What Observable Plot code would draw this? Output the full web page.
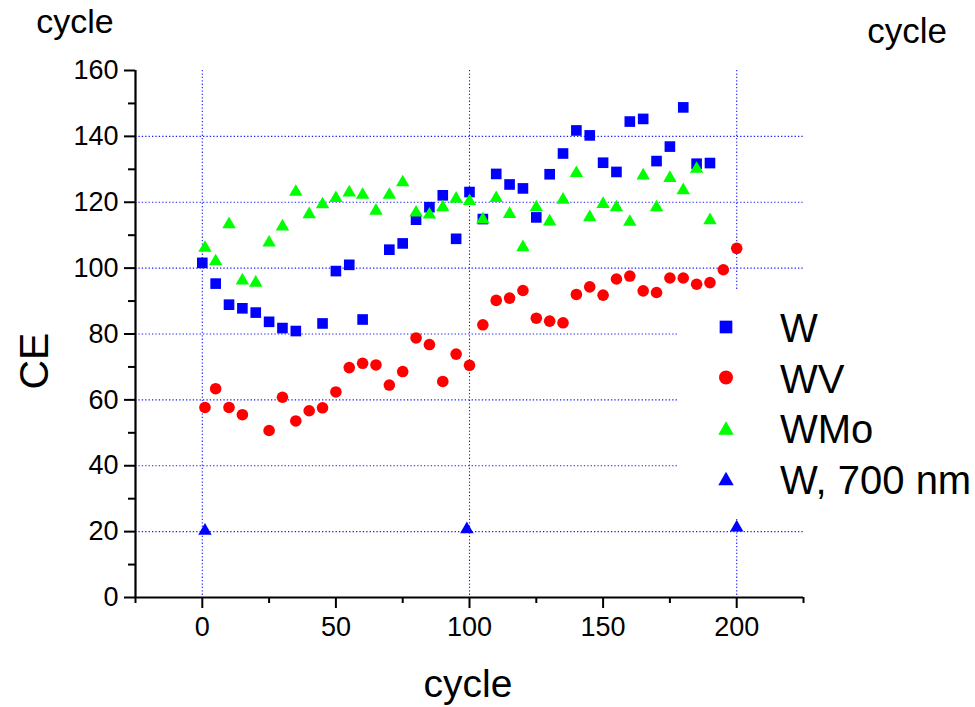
<!DOCTYPE html>
<html>
<head>
<meta charset="utf-8">
<script src="https://cdn.jsdelivr.net/npm/d3@7"></script>
<script src="https://cdn.jsdelivr.net/npm/@observablehq/plot@0.6"></script>
<style>
  html, body { margin: 0; padding: 0; background: white; }
  #wrap { position: relative; width: 975px; height: 707px; font-family: "Liberation Sans", Arial, sans-serif; }
  #wrap svg { display: block; }
  #overlay { position: absolute; left: 0; top: 0; pointer-events: none; }
</style>
</head>
<body>
<div id="wrap"></div>
<script>
// ---- data ----
const seriesNames = ["W", "WV", "WMo", "W, 700 nm"];
const seriesColors = ["#0000ff", "#ff0000", "#00ff00", "#0000ff"];
const seriesSymbols = ["square", "circle", "triangle", "triangle"];

const cycleW = [0,5,10,15,20,25,30,35,45,50,55,60,70,75,80,85,90,95,100,105,110,115,120,125,130,135,140,145,150,155,160,165,170,175,180,185,190];
const ceW = [101.6,95.3,88.9,87.8,86.5,83.7,81.8,80.9,83.2,99.1,101,84.4,105.6,107.5,114.7,118.5,122.1,108.9,123.1,114.9,128.6,125.4,124.2,115.4,128.5,134.8,141.8,140.3,132,129.2,144.5,145.3,132.5,136.9,148.8,131.7,131.9];

const cycleWV = [1,5,10,15,25,30,35,40,45,50,55,60,65,70,75,80,85,90,95,100,105,110,115,120,125,130,135,140,145,150,155,160,165,170,175,180,185,190,195,200];
const ceWV = [57.7,63.4,57.7,55.5,50.7,60.8,53.6,56.7,57.6,62.4,69.8,71.1,70.6,64.5,68.6,78.8,76.8,65.6,73.9,70.5,82.8,90.2,90.9,93.2,84.8,83.9,83.4,92,94.3,91.8,96.7,97.6,93.1,92.6,97,97,95.1,95.6,99.5,106];

const cycleWMo = [1,5,10,15,20,25,30,35,40,45,50,55,60,65,70,75,80,85,90,95,100,105,110,115,120,125,130,135,140,145,150,155,160,165,170,175,180,185,190];
const ceWMo = [106.7,102.6,113.9,96.8,96.1,108.3,113.2,123.7,116.9,119.9,121.8,123.5,122.8,118,122.8,126.6,117.4,116.8,119,121.6,120.9,115.3,121.8,117,106.9,119,114.7,121.3,129.4,116,120,119,114.6,128.7,119,127.9,124.2,130.7,115.1];

const cycleW700 = [1, 99, 200];
const ceW700 = [20.8, 21.3, 21.8];

const xMajorTicks = [0, 50, 100, 150, 200];
const xMinorTicks = [-25, 25, 75, 125, 175, 225];
const yMajorTicks = [0, 20, 40, 60, 80, 100, 120, 140, 160];
const yMinorTicks = [10, 30, 50, 70, 90, 110, 130, 150];
const xGridLines = [0, 100, 200];
const yGridLines = [20, 40, 60, 80, 100, 120, 140];
const xDomain = [-25, 225];
const yDomain = [0, 160];

// ---- tables ----
const toRows = (xs, ys, s) => xs.map((c, i) => ({cycle: c, ce: ys[i], series: s}));
const rowsW = toRows(cycleW, ceW, seriesNames[0]);
const rowsWV = toRows(cycleWV, ceWV, seriesNames[1]);
const rowsWMo = toRows(cycleWMo, ceWMo, seriesNames[2]);
const rowsW700 = toRows(cycleW700, ceW700, seriesNames[3]);

const gridStyle = {stroke: "#1a1aff", strokeOpacity: 1, strokeWidth: 1.1, strokeDasharray: "1.3,2.1"};
const font = "'Liberation Sans', Arial, sans-serif";

const chart = Plot.plot({
  width: 975,
  height: 707,
  marginLeft: 135,
  marginRight: 172,
  marginTop: 70,
  marginBottom: 110,
  x: {domain: xDomain, label: null},
  y: {domain: yDomain, label: null},
  style: {fontFamily: font, background: "white", color: "black", overflow: "visible"},
  marks: [
    Plot.gridX(xGridLines, gridStyle),
    Plot.gridY(yGridLines, gridStyle),
    Plot.axisX(xMinorTicks, {tickSize: 6, strokeWidth: 2, tickFormat: () => "", label: null}),
    Plot.axisX(xMajorTicks, {tickSize: 11, tickPadding: 8, strokeWidth: 2, fontSize: 27, label: null}),
    Plot.axisY(yMinorTicks, {tickSize: 7, strokeWidth: 2, tickFormat: () => "", label: null}),
    Plot.axisY(yMajorTicks, {tickSize: 11, tickPadding: 6, strokeWidth: 2, fontSize: 27, label: null}),
    Plot.ruleX([xDomain[0]], {y1: yDomain[0], y2: yDomain[1], strokeWidth: 2.2}),
    Plot.ruleY([yDomain[0]], {x1: xDomain[0], x2: xDomain[1], strokeWidth: 2.2}),
    Plot.dot(rowsW, {x: "cycle", y: "ce", symbol: seriesSymbols[0], fill: seriesColors[0], r: 6, stroke: null}),
    Plot.dot(rowsWV, {x: "cycle", y: "ce", symbol: seriesSymbols[1], fill: seriesColors[1], r: 5.8, stroke: null}),
    Plot.dot(rowsWMo, {x: "cycle", y: "ce", symbol: seriesSymbols[2], fill: seriesColors[2], r: 5, dy: 1.9, stroke: null}),
    Plot.dot(rowsW700, {x: "cycle", y: "ce", symbol: seriesSymbols[3], fill: seriesColors[3], r: 5, dy: 1.9, stroke: null})
  ]
});

const wrap = document.getElementById("wrap");
wrap.appendChild(chart);

// ---- overlay: axis titles and legend ----
const ov = d3.select(wrap).append("svg")
  .attr("id", "overlay")
  .attr("width", 975).attr("height", 707)
  .style("font-family", font);

ov.append("text").text("CE")
  .attr("transform", "translate(48,361) rotate(-90)")
  .attr("text-anchor", "middle").attr("font-size", 41).attr("fill", "black");
ov.append("text").text("cycle")
  .attr("x", 468).attr("y", 697)
  .attr("text-anchor", "middle").attr("font-size", 39).attr("fill", "black");
ov.append("text").text("cycle")
  .attr("x", 75).attr("y", 33)
  .attr("text-anchor", "middle").attr("font-size", 34).attr("fill", "black");
ov.append("text").text("cycle")
  .attr("x", 907).attr("y", 43)
  .attr("text-anchor", "middle").attr("font-size", 35).attr("fill", "black");

// legend
const lg = ov.append("g");
lg.append("rect").attr("x", 678).attr("y", 291).attr("width", 297).attr("height", 228).attr("fill", "white");
const symMap = {square: d3.symbolSquare, circle: d3.symbolCircle, triangle: d3.symbolTriangle};
const symSize = {square: 161, circle: Math.PI * 49, triangle: 104};
seriesNames.forEach((name, i) => {
  const cy = 327 + i * 50.5;
  const s = seriesSymbols[i];
  const off = s === "triangle" ? 2.2 : 0;
  lg.append("path")
    .attr("d", d3.symbol(symMap[s], symSize[s])())
    .attr("transform", `translate(726,${cy + off})`)
    .attr("fill", seriesColors[i]);
  lg.append("text").text(name)
    .attr("x", 780).attr("y", cy + 15)
    .attr("font-size", 40).attr("fill", "black");
});
</script>
</body>
</html>
